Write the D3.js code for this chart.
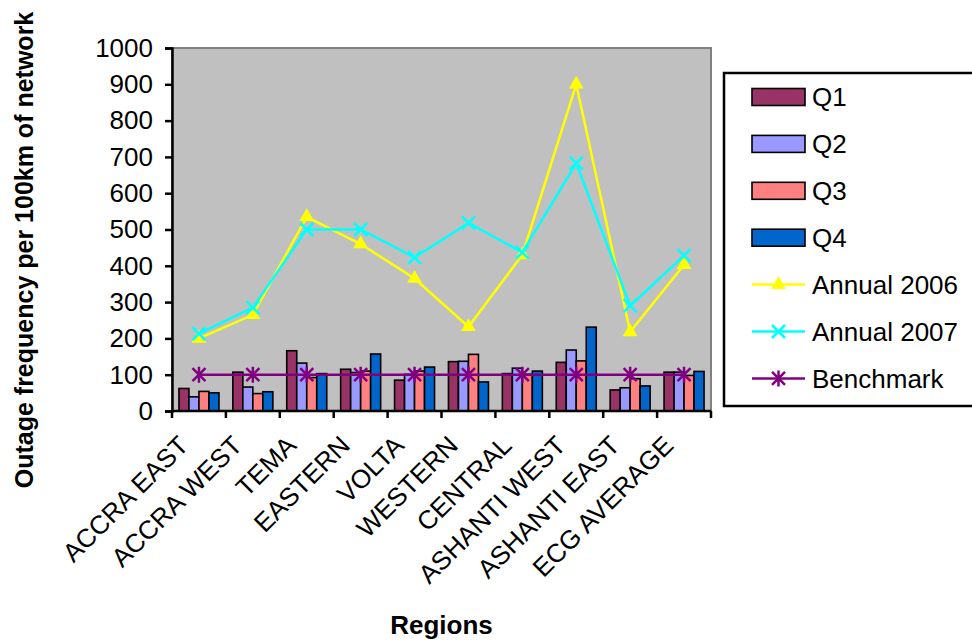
<!DOCTYPE html>
<html>
<head>
<meta charset="utf-8">
<script src="https://cdn.jsdelivr.net/npm/d3@7"></script>
<style>
  html, body { margin: 0; padding: 0; background: #fff; }
  svg { display: block; }
  text { font-family: "Liberation Sans", Arial, sans-serif; fill: #000; }
</style>
</head>
<body>
<svg id="chart" width="972" height="641"></svg>
<script>
const categories = ["ACCRA EAST", "ACCRA WEST", "TEMA", "EASTERN", "VOLTA", "WESTERN", "CENTRAL", "ASHANTI WEST", "ASHANTI EAST", "ECG AVERAGE"];
const barSeries = ["Q1", "Q2", "Q3", "Q4"];
const q1 = [62, 107, 166, 115, 85, 136, 103, 134, 58, 107];
const q2 = [39, 66, 132, 106, 101, 137, 118, 168, 64, 107];
const q3 = [54, 48, 92, 110, 110, 156, 101, 138, 89, 98];
const q4 = [50, 53, 103, 157, 121, 80, 110, 231, 69, 109];
const annual2006 = [200, 265, 535, 460, 365, 232, 430, 900, 218, 403];
const annual2007 = [213, 285, 500, 500, 423, 518, 437, 683, 290, 428];
const benchmark = [100, 100, 100, 100, 100, 100, 100, 100, 100, 100];
const yTicks = [0, 100, 200, 300, 400, 500, 600, 700, 800, 900, 1000];

const barValues = [q1, q2, q3, q4];
const barColors = ["#993366", "#9999FF", "#FF8080", "#0066CC"];
const lineSeries = [
  { name: "Annual 2006", values: annual2006, color: "#FFFF00", marker: "triangle" },
  { name: "Annual 2007", values: annual2007, color: "#00FFFF", marker: "x" },
  { name: "Benchmark", values: benchmark, color: "#800080", marker: "star" }
];

const svg = d3.select("#chart");
const L = 172, R = 711, T = 48, B = 411;
const FS = 26;

const x0 = d3.scaleBand().domain(categories).range([L, R]).paddingInner(0).paddingOuter(0);
const step = x0.bandwidth();
const groupW = step * 0.742;
const x1 = d3.scaleBand().domain(barSeries).range([0, groupW]);
const y = d3.scaleLinear().domain([0, 1000]).range([B, T]);

// plot area
svg.append("rect").attr("x", L).attr("y", T).attr("width", R - L).attr("height", B - T)
  .attr("fill", "#C0C0C0").attr("stroke", "#808080").attr("stroke-width", 2);

// bars
const barData = [];
categories.forEach((c, i) => {
  barSeries.forEach((s, j) => barData.push({ c, s, v: barValues[j][i], color: barColors[j] }));
});
svg.append("g").selectAll("rect").data(barData).join("rect")
  .attr("x", d => x0(d.c) + (step - groupW) / 2 + x1(d.s))
  .attr("y", d => y(d.v))
  .attr("width", x1.bandwidth())
  .attr("height", d => y(0) - y(d.v))
  .attr("fill", d => d.color)
  .attr("stroke", "#000").attr("stroke-width", 1.6);

// axes
const yAxis = d3.axisLeft(y).tickValues(yTicks).tickSize(7).tickPadding(12).tickFormat(d3.format("d"));
const gy = svg.append("g").attr("transform", `translate(${L},0)`).call(yAxis);
gy.select(".domain").attr("stroke", "#000").attr("stroke-width", 2.5);
gy.selectAll(".tick line").attr("stroke", "#000").attr("stroke-width", 2.5);
gy.selectAll(".tick text").style("font-size", FS + "px").attr("fill", "#000");

const boundaries = categories.map(c => x0(c)).concat([R]);
const gx = svg.append("g");
gx.append("line").attr("x1", L).attr("x2", R).attr("y1", B).attr("y2", B)
  .attr("stroke", "#000").attr("stroke-width", 2.5);
gx.selectAll(".tk").data(boundaries).join("line").attr("class", "tk")
  .attr("x1", d => d).attr("x2", d => d).attr("y1", B).attr("y2", B + 7)
  .attr("stroke", "#000").attr("stroke-width", 2.5);
gx.selectAll(".lbl").data(categories).join("text").attr("class", "lbl")
  .attr("text-anchor", "end")
  .style("font-size", FS + "px")
  .attr("transform", d => `translate(${x0(d) + step / 2 - 9},${B + 36}) rotate(-45)`)
  .text(d => d);

// lines
const cx = c => x0(c) + step / 2;
function drawMarker(g, kind, px, py, color) {
  if (kind === "triangle") {
    g.append("path").attr("d", d3.symbol().type(d3.symbolTriangle).size(95)())
      .attr("transform", `translate(${px},${py})`).attr("fill", color);
  } else if (kind === "x") {
    const s = 6.5;
    g.append("path").attr("d", `M${px - s},${py - s}L${px + s},${py + s}M${px - s},${py + s}L${px + s},${py - s}`)
      .attr("stroke", color).attr("stroke-width", 2.5).attr("fill", "none");
  } else {
    const s = 6.5;
    g.append("path").attr("d", `M${px - s},${py - s}L${px + s},${py + s}M${px - s},${py + s}L${px + s},${py - s}M${px},${py - s - 1.5}L${px},${py + s + 1.5}`)
      .attr("stroke", color).attr("stroke-width", 2.5).attr("fill", "none");
  }
}
const line = d3.line().x((d, i) => cx(categories[i])).y(d => y(d));
lineSeries.forEach(s => {
  const g = svg.append("g");
  g.append("path").datum(s.values).attr("d", line).attr("fill", "none")
    .attr("stroke", s.color).attr("stroke-width", 2.5);
  s.values.forEach((v, i) => drawMarker(g, s.marker, cx(categories[i]), y(v), s.color));
});

// legend
const lg = svg.append("g");
lg.append("rect").attr("x", 724).attr("y", 73).attr("width", 300).attr("height", 333)
  .attr("fill", "#fff").attr("stroke", "#000").attr("stroke-width", 2.5);
const legendItems = barSeries.map((s, j) => ({ name: s, type: "bar", color: barColors[j] }))
  .concat(lineSeries.map(s => ({ name: s.name, type: "line", color: s.color, marker: s.marker })));
legendItems.forEach((it, i) => {
  const cy = 97 + i * 46.9;
  if (it.type === "bar") {
    lg.append("rect").attr("x", 752).attr("y", cy - 8.5).attr("width", 53).attr("height", 17)
      .attr("fill", it.color).attr("stroke", "#000").attr("stroke-width", 1.6);
  } else {
    lg.append("line").attr("x1", 752).attr("x2", 805).attr("y1", cy).attr("y2", cy)
      .attr("stroke", it.color).attr("stroke-width", 2.5);
    drawMarker(lg, it.marker, 778.5, cy, it.color);
  }
  lg.append("text").attr("x", 812).attr("y", cy).attr("dy", "0.36em")
    .style("font-size", FS + "px").text(it.name);
});

// axis titles
svg.append("text").attr("text-anchor", "middle").attr("transform", `translate(33,250) rotate(-90)`)
  .style("font-size", "25px").style("font-weight", "bold")
  .text("Outage frequency per 100km of network");
svg.append("text").attr("text-anchor", "middle").attr("x", (L + R) / 2).attr("y", 634)
  .style("font-size", FS + "px").style("font-weight", "bold").text("Regions");
</script>
</body>
</html>
